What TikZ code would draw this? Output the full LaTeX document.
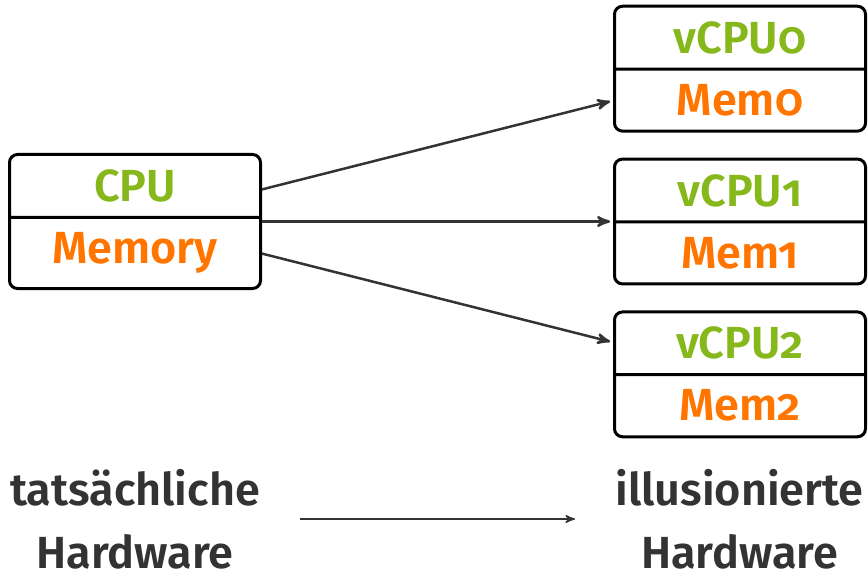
\documentclass[tikz,border=0pt]{standalone}
\usepackage{fontspec}
\setmainfont{Fira Sans}[Numbers=OldStyle, BoldFont={Fira Sans SemiBold}]
\usetikzlibrary{positioning,arrows,shapes}
\definecolor{cpugreen}{RGB}{134,184,28}
\definecolor{memorange}{RGB}{255,117,0}
\definecolor{hwgray}{RGB}{51,51,51}
\tikzset{
    >=stealth',
    machine/.style={
        rectangle split,
        rectangle split parts=2,
        rounded corners=4pt,
        draw=black, line width=1.5pt,
        text width=110pt,
        inner xsep=7.75pt,
        inner ysep=6.8pt,
        align=center
    },
    link/.style={draw=hwgray, line width=1.25pt, ->, shorten >=1.5pt},
    hwlabel/.style={
        text=hwgray,
        inner sep=0pt,
        align=center
    }
}

\begin{document}
\begin{tikzpicture}[x=0.5pt, y=-0.5pt, font=\fontsize{22.5}{31.5}\selectfont\bfseries]
    \useasboundingbox (0,0) rectangle (868,580);
    \node[machine] (cpu) at (135,221.5)
        {\textcolor{cpugreen}{CPU}\nodepart{two}\textcolor{memorange}{Memory}};
    \node[machine, right=175.5pt of cpu] (vcpu1)
        {\textcolor{cpugreen}{vCPU1}\nodepart{two}\textcolor{memorange}{Mem1}};
    \node[machine, above=12.5pt of vcpu1] (vcpu0)
        {\textcolor{cpugreen}{vCPU0}\nodepart{two}\textcolor{memorange}{Mem0}};
    \node[machine, below=12.5pt of vcpu1] (vcpu2)
        {\textcolor{cpugreen}{vCPU2}\nodepart{two}\textcolor{memorange}{Mem2}};

    \draw[link] (cpu) -- (vcpu0);
    \draw[link] (cpu) -- (vcpu1);
    \draw[link] (cpu) -- (vcpu2);

    % untere Beschriftung
    \node[hwlabel] (realhw) at (135,519) {tatsächliche\\Hardware};
    \node[hwlabel] (illuhw) at (739.5,519) {illusionierte\\Hardware};
    \draw[->, draw=hwgray, line width=0.75pt, shorten <=20pt, shorten >=20pt] (realhw) -- (illuhw);
\end{tikzpicture}
\end{document}
